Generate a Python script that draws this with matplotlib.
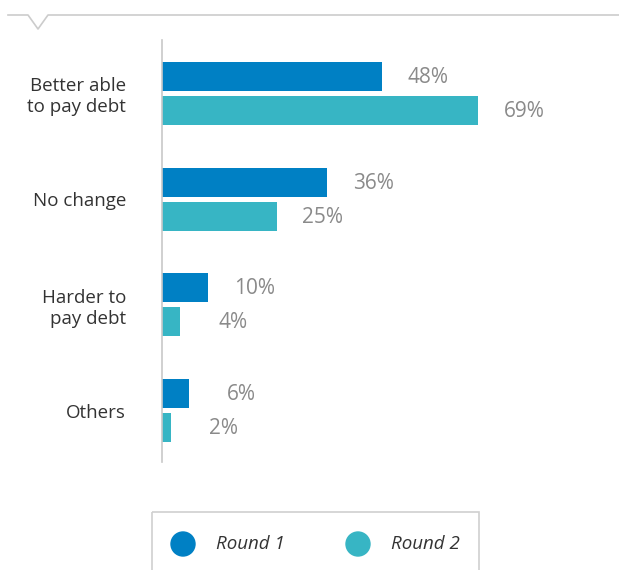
import numpy as np
import matplotlib

matplotlib.use("Agg")
import matplotlib.pyplot as plt
from matplotlib.patches import Circle, Rectangle

plt.rcParams["font.family"] = ["Open Sans", "DejaVu Sans"]

# ---------------------------------------------------------------------
# data
# ---------------------------------------------------------------------

categories = ["Better able\nto pay debt", "No change", "Harder to\npay debt", "Others"]
series_names = ["Round 1", "Round 2"]
round1 = [48, 36, 10, 6]
round2 = [69, 25, 4, 2]
series_colors = ["#0080c4", "#37b5c4"]

W, H = 619, 570
fig = plt.figure(figsize=(W / 100, H / 100), dpi=100)

# main bar axes, placed in pixel terms
left, right, top, bottom = 162, 620, 40, 462
ax = fig.add_axes([left / W, 1 - bottom / H, (right - left) / W, (bottom - top) / H])

y = np.arange(len(categories))
bar_h = 0.274
off = 0.161
for vals, name, color, sign in zip([round1, round2], series_names, series_colors, [-1, 1]):
    bars = ax.barh(y + sign * off, vals, height=bar_h, color=color, label=name)
    # value labels sit right-aligned in a fixed-width slot after the bar
    for b, v in zip(bars, vals):
        ax.text(b.get_width() + 14.6, b.get_y() + b.get_height() / 2 + 0.01, f"{v}%",
                ha="right", va="center", fontsize=15, color="#8a8a8a")

ax.set_xlim(0, 100)
ax.set_ylim(3.487, -0.506)
ax.set_yticks(y)
ax.set_yticklabels(categories, fontsize=13.5, color="#333333", linespacing=1.2)
ax.tick_params(axis="y", length=0, pad=26)
ax.set_xticks([])
for s in ["top", "right", "bottom"]:
    ax.spines[s].set_visible(False)
ax.spines["left"].set_color("#c8c8c8")
ax.spines["left"].set_linewidth(1.2)

# overlay for header rule and the key box
ov = fig.add_axes([0, 0, 1, 1])
ov.set_xlim(0, W)
ov.set_ylim(H, 0)
ov.axis("off")
ov.plot([8, 28, 38, 48, W], [15, 15, 29, 15, 15], color="#cccccc", lw=1.2)

ov.add_patch(Rectangle((152, 512), 327, 70, fill=False, edgecolor="#d0d0d0", lw=1.2))
for name, color, cx in zip(series_names, series_colors, [183, 358]):
    ov.add_patch(Circle((cx, 544), 12, color=color))
    ov.text(cx + 33, 544, name, ha="left", va="center", fontsize=13.5,
            style="italic", color="#333333")

fig.savefig("out.png", dpi=100)
